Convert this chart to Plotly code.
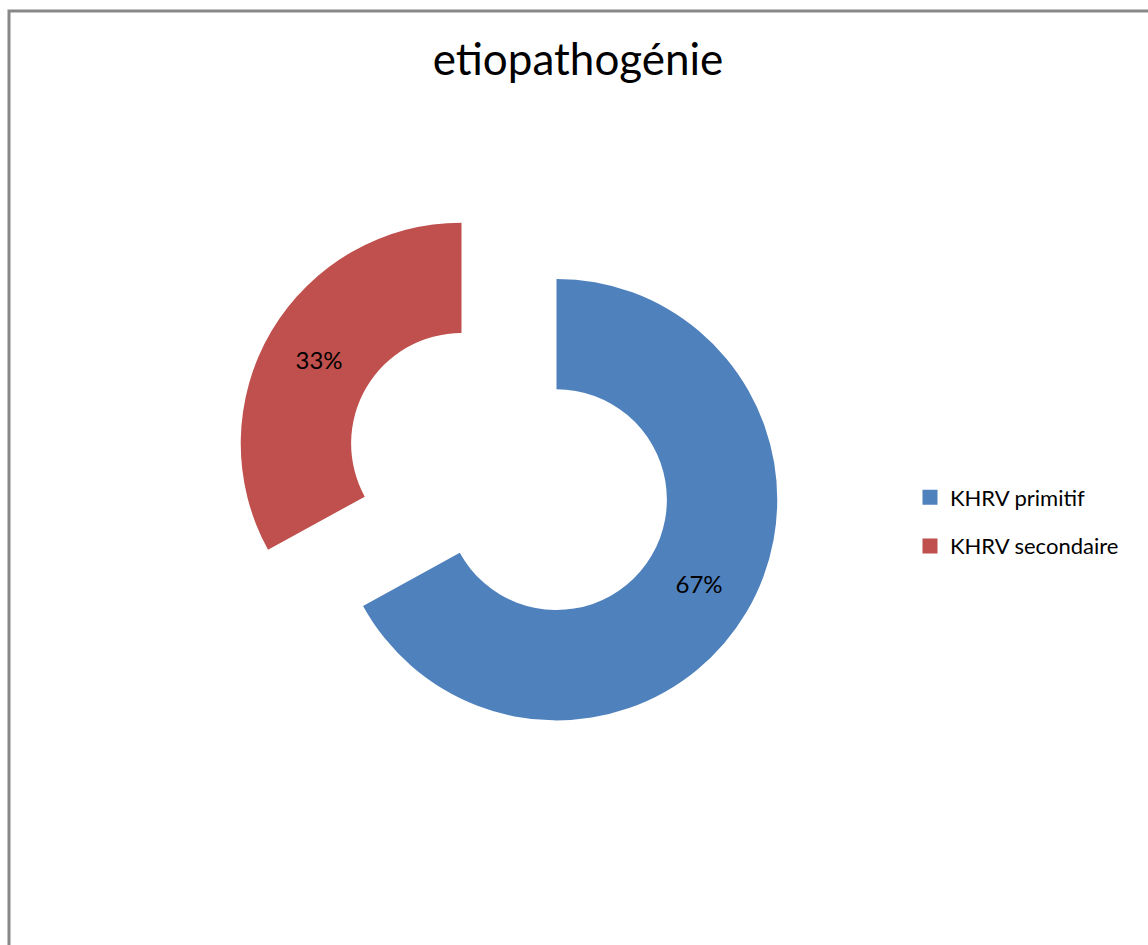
import plotly.graph_objects as go

# Doughnut data
labels = ["KHRV primitif", "KHRV secondaire"]
values = [67, 33]
colors = ["#4F81BD", "#C0504D"]
title_text = "etiopathogénie"

FONT = "Liberation Sans Narrow, Arial Narrow, Lato, sans-serif"
W, H = 1148, 945

fig = go.Figure()

fig.add_trace(go.Pie(
    labels=labels,
    values=values,
    hole=0.5,
    sort=False,
    direction="clockwise",
    rotation=0,
    pull=[0.25, 0.25],
    marker=dict(colors=colors, line=dict(width=0)),
    textinfo="percent",
    textposition="inside",
    insidetextorientation="horizontal",
    textfont=dict(family=FONT, size=24, color="#000000"),
    showlegend=False,
    hoverinfo="label+percent",
    domain=dict(x=[233 / W, 785 / W], y=[0.209, 0.793]),
))

# Legend entries, one per category, using square markers
for i, (lab, col) in enumerate(zip(labels, colors)):
    fig.add_trace(go.Scatter(
        x=[None], y=[None], mode="markers", name=lab,
        legendgroup=f"g{i}",
        marker=dict(symbol="square", size=15, color=col),
        hoverinfo="skip",
    ))

fig.update_layout(
    width=W, height=H,
    margin=dict(l=0, r=0, t=0, b=0),
    paper_bgcolor="#FFFFFF",
    plot_bgcolor="#FFFFFF",
    title=dict(text=title_text, x=0.5035, xanchor="center",
               y=1 - 60 / H, yanchor="middle",
               font=dict(family=FONT, size=44, color="#000000")),
    legend=dict(x=910 / W, xanchor="left", y=1 - 522 / H, yanchor="middle",
                font=dict(family=FONT, size=22, color="#000000"),
                tracegroupgap=17, bgcolor="rgba(0,0,0,0)"),
    xaxis=dict(visible=False),
    yaxis=dict(visible=False),
    shapes=[dict(type="rect", xref="paper", yref="paper",
                 x0=9 / W, x1=1.05, y0=-0.05, y1=1 - 11 / H,
                 line=dict(color="#888888", width=3), layer="below")],
)

fig.write_html("out.html")
